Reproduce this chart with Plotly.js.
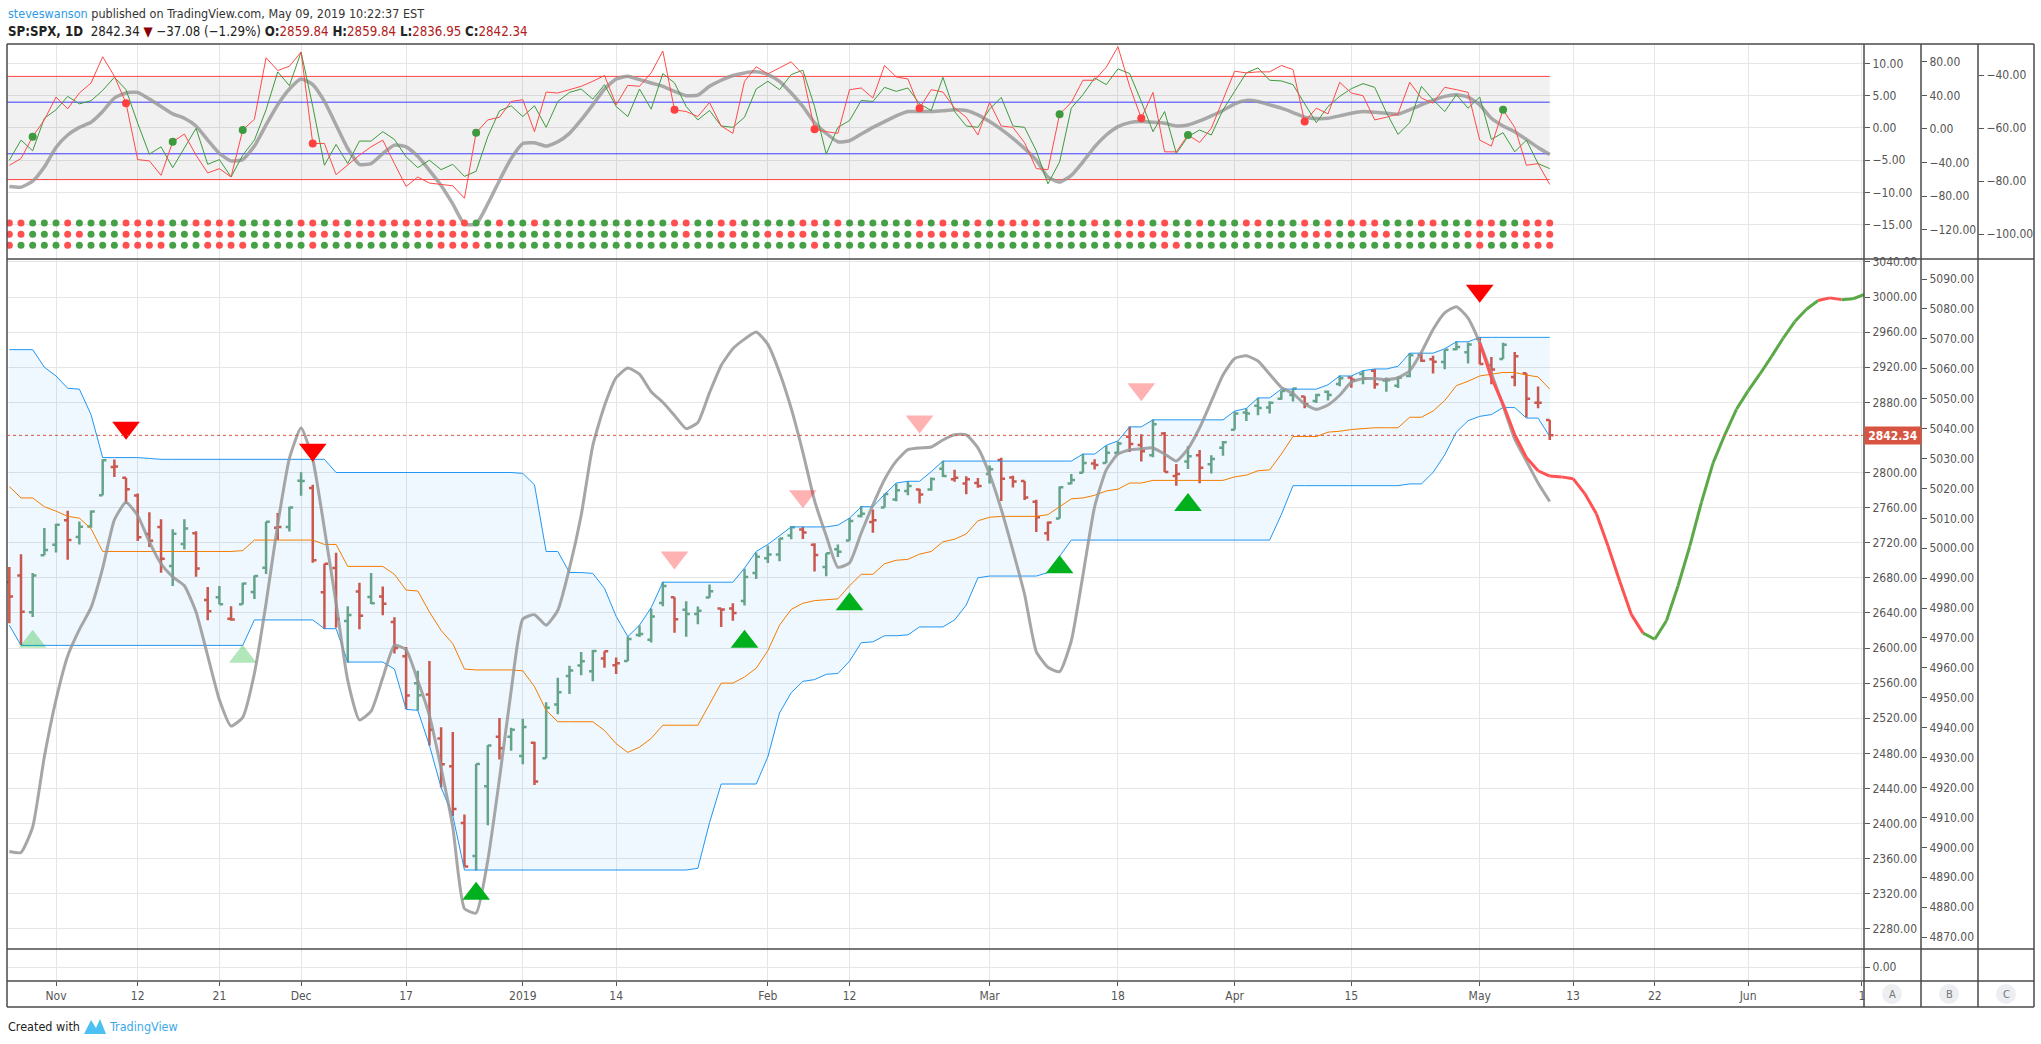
<!DOCTYPE html>
<html><head><meta charset="utf-8">
<script src="https://cdn.plot.ly/plotly-3.0.1.min.js"></script>
<style>html,body{margin:0;padding:0;background:#fff;}#chart{width:2041px;height:1044px;}</style>
</head><body><div id="chart"></div>
<script>
// ---------------- DATA ----------------
const FIRST_INDEX = -4; // Oct 26 2018 relative to Nov 1 2018 (index 0)
const openP = [2674.88,2682.65,2640.68,2705.60,2717.58,2745.45,2726.37,2738.40,2774.13,2806.38,
2794.10,2773.93,2730.05,2737.90,2693.52,2718.54,2730.74,2654.60,2657.74,2633.36,
2649.97,2663.75,2691.45,2736.97,2737.76,2790.50,2782.43,2663.51,2691.26,2630.86,
2664.44,2658.23,2658.70,2629.68,2590.75,2559.90,2547.05,2496.77,2465.38,2400.56,
2363.12,2442.50,2498.77,2498.94,2476.96,2491.92,2474.33,2535.61,2568.11,2580.00,
2573.51,2588.11,2580.31,2585.10,2614.75,2609.28,2651.27,2657.88,2643.48,2638.84,
2657.44,2644.97,2644.89,2653.62,2685.49,2702.32,2706.49,2728.34,2735.05,2717.53,
2692.36,2712.40,2722.61,2750.30,2743.50,2760.24,2769.28,2779.05,2780.67,2780.67,
2804.35,2792.36,2787.50,2788.11,2798.22,2814.37,2794.41,2790.27,2766.53,2730.79,
2747.61,2787.34,2799.78,2810.38,2810.79,2822.61,2840.76,2831.34,2819.72,2844.52,
2796.01,2812.66,2819.72,2809.40,2828.27,2848.63,2868.24,2876.09,2873.99,2884.16,
2888.46,2886.58,2881.37,2891.92,2900.86,2908.32,2912.26,2916.04,2904.81,2898.78,
2909.99,2934.00,2928.99,2925.81,2940.58,2937.14,2952.33,2922.16,2929.21,2908.89,
2913.03,2879.61,2859.84];
const highP = [2692.38,2706.85,2685.43,2736.69,2741.67,2756.55,2744.27,2756.82,2815.15,2814.75,
2794.10,2775.99,2754.60,2746.80,2735.38,2746.75,2733.16,2669.44,2670.73,2647.55,
2674.35,2682.53,2744.00,2753.75,2760.88,2800.18,2785.93,2696.15,2708.54,2647.51,
2674.35,2685.44,2670.19,2635.07,2601.13,2573.99,2585.29,2509.63,2504.41,2410.34,
2467.76,2489.10,2520.27,2509.24,2519.49,2493.14,2538.07,2566.16,2579.82,2595.32,
2597.82,2596.27,2589.32,2613.08,2625.76,2645.06,2675.47,2657.88,2653.19,2647.20,
2672.38,2644.97,2650.93,2690.44,2708.95,2716.66,2724.99,2738.98,2738.08,2719.32,
2708.07,2718.05,2748.19,2761.85,2757.90,2775.66,2787.33,2789.88,2781.58,2794.20,
2813.49,2803.12,2795.76,2793.73,2808.02,2816.88,2796.44,2790.27,2768.98,2744.13,
2784.00,2798.32,2821.24,2815.00,2830.73,2835.41,2852.42,2843.54,2860.31,2846.16,
2809.79,2829.87,2825.56,2819.71,2836.03,2869.40,2872.90,2885.25,2881.28,2893.24,
2895.95,2886.88,2889.71,2893.42,2910.54,2909.60,2916.06,2918.00,2908.40,2909.51,
2936.31,2936.83,2933.10,2939.88,2949.52,2948.22,2954.13,2931.68,2947.85,2937.32,
2913.03,2897.96,2859.84];
const lowP = [2628.16,2603.54,2635.34,2705.60,2708.85,2700.44,2717.94,2737.08,2774.13,2794.99,
2764.24,2722.00,2714.98,2685.75,2670.75,2712.16,2681.09,2631.52,2649.82,2631.09,
2649.97,2655.89,2684.38,2722.94,2732.76,2773.38,2697.18,2621.53,2623.14,2583.23,
2621.30,2650.26,2637.27,2593.84,2530.54,2528.71,2488.96,2441.18,2408.55,2351.10,
2346.58,2397.94,2472.89,2482.82,2467.47,2443.96,2474.33,2524.56,2547.56,2568.89,
2562.02,2577.40,2570.41,2585.10,2612.68,2606.36,2647.58,2617.27,2612.86,2627.01,
2657.33,2624.06,2631.05,2648.34,2678.65,2696.88,2698.75,2724.03,2724.15,2687.26,
2681.83,2703.79,2722.61,2748.63,2731.23,2760.24,2767.29,2774.06,2764.55,2779.11,
2794.99,2789.47,2775.13,2782.51,2787.38,2767.66,2782.97,2768.69,2732.08,2722.27,
2747.61,2786.73,2799.78,2803.46,2810.79,2821.99,2823.27,2812.43,2817.38,2800.47,
2785.02,2803.99,2787.72,2798.77,2819.23,2848.63,2858.75,2865.17,2867.14,2882.99,
2880.78,2873.33,2879.13,2881.99,2898.37,2896.48,2900.71,2895.45,2891.90,2896.35,
2908.53,2926.05,2912.84,2917.56,2939.35,2924.11,2923.36,2900.50,2929.21,2898.21,
2862.60,2873.28,2836.95];
const closeP = [2658.69,2641.25,2682.63,2711.74,2740.37,2723.06,2738.31,2755.45,2813.89,2806.83,
2781.01,2726.22,2722.18,2701.58,2730.20,2736.27,2690.73,2641.89,2649.93,2632.56,
2673.45,2682.17,2743.79,2737.80,2760.17,2790.37,2700.06,2695.95,2633.08,2637.72,
2636.78,2651.07,2650.54,2599.95,2545.94,2546.16,2506.96,2467.42,2416.62,2351.10,
2467.70,2488.83,2485.74,2506.85,2510.03,2447.89,2531.94,2549.69,2574.41,2584.96,
2596.64,2596.26,2582.61,2610.30,2616.10,2635.96,2670.71,2632.90,2638.70,2642.33,
2664.76,2643.85,2640.00,2681.05,2704.10,2706.53,2724.87,2737.70,2731.61,2706.05,
2707.88,2709.80,2744.73,2753.03,2745.73,2775.60,2779.76,2784.70,2774.88,2792.67,
2796.11,2793.90,2792.38,2784.49,2803.69,2792.81,2789.65,2771.45,2748.93,2743.07,
2783.30,2791.52,2810.92,2808.48,2822.48,2832.94,2832.57,2824.23,2854.88,2800.71,
2798.36,2818.46,2805.37,2815.44,2834.40,2867.19,2867.24,2873.40,2879.39,2892.74,
2895.77,2878.20,2888.21,2888.32,2907.41,2905.58,2907.06,2900.45,2905.03,2907.97,
2933.68,2927.25,2926.17,2939.88,2943.03,2945.83,2923.73,2917.52,2945.64,2932.47,
2884.05,2879.42,2842.34];
// bar colour (vs previous close): G = up, R = down
const barColors = "RRGGGRGGGR RRRRGGRRGR GGGRGGRRRG RGRRRGRRRR GGRGGRGGGG GRRGGGGRGG GRRGGGGGRR GGGGRGGGRG GRRRGRRRRR GGGRGGRRGR RGRGGGGGGG GRGGGRGRGG GRRGGGRRGRRRR";

// channel (main pane)
const bandUpper = [2940,2940,2940,2920,2910,2896,2895,2866,2817,2817,
2817,2817,2816,2815,2815,2815,2815,2815,2815,2815,
2815,2815,2815,2815,2815,2815,2815,2815,2800,2800,
2800,2800,2800,2800,2800,2800,2800,2800,2800,2800,
2800,2800,2800,2800,2799,2786,2710,2710,2686,2686,
2685,2668,2636,2613,2626,2646,2675,2675,2675,2675,
2675,2675,2675,2691,2710,2718,2728,2738,2738,2738,
2738,2740,2748,2761,2761,2775,2788,2790,2790,2801,
2813,2813,2813,2813,2813,2813,2813,2813,2813,2813,
2813,2813,2821,2821,2831,2836,2852,2852,2860,2860,
2860,2860,2860,2860,2860,2870,2873,2885,2885,2895,
2895,2895,2895,2900,2910,2910,2916,2918,2918,2921,
2936,2936,2936,2941,2949,2949,2954,2954,2954,2954,2954,2954,2954];
const bandLower = [2626,2603,2603,2603,2603,2603,2603,2603,2603,2603,
2603,2603,2603,2603,2603,2603,2603,2603,2603,2603,
2603,2632,2632,2632,2632,2632,2632,2622,2622,2584,
2584,2584,2584,2576,2530,2529,2489,2441,2409,2347,
2347,2347,2347,2347,2347,2347,2347,2347,2347,2347,
2347,2347,2347,2347,2347,2347,2347,2347,2347,2349,
2401,2445,2445,2445,2445,2476,2526,2549,2562,2564,
2570,2571,2585,2606,2607,2614,2614,2615,2624,2624,
2624,2632,2649,2680,2682,2682,2682,2682,2682,2686,
2704,2723,2723,2723,2723,2723,2723,2723,2723,2723,
2723,2723,2723,2723,2723,2723,2723,2723,2723,2752,
2785,2785,2785,2785,2785,2785,2785,2785,2785,2785,
2787,2787,2800,2820,2846,2859,2864,2866,2874,2874,2862,2862,2841];
const bandMid = [2784,2771,2771,2761,2756,2750,2748,2736,2710,2710,
2710,2710,2710,2710,2710,2710,2710,2710,2710,2710,
2711,2723,2723,2723,2723,2723,2723,2718,2718,2693,
2693,2693,2693,2684,2666,2665,2641,2620,2605,2576,
2575,2575,2575,2575,2574,2556,2529,2516,2516,2516,
2516,2506,2491,2481,2487,2497,2512,2512,2512,2512,
2536,2560,2560,2567,2577,2597,2626,2644,2651,2654,
2655,2656,2671,2684,2684,2696,2700,2701,2707,2710,
2721,2724,2730,2745,2749,2750,2750,2750,2750,2752,
2761,2770,2771,2774,2779,2781,2788,2788,2791,2791,
2791,2791,2791,2791,2791,2795,2797,2802,2803,2821,
2841,2841,2841,2846,2847,2849,2850,2851,2851,2851,
2863,2863,2870,2882,2899,2904,2910,2912,2914,2914,2911,2909,2895];
const cycleLine = [2368,2367,2396,2476,2541,2591,2621,2646,2691,2746,
2766,2751,2721,2696,2681,2671,2641,2591,2541,2511,
2521,2571,2651,2741,2816,2851,2815,2736,2651,2563,
2518,2528,2566,2603,2598,2563,2523,2463,2396,2303,
2298,2358,2451,2551,2633,2638,2626,2643,2691,2751,
2831,2876,2908,2919,2912,2892,2880,2865,2850,2857,
2891,2922,2941,2952,2960,2946,2914,2873,2823,2768,
2728,2692,2697,2731,2763,2792,2813,2826,2828,2829,
2837,2843,2843,2828,2798,2758,2711,2661,2596,2578,
2573,2608,2683,2761,2803,2821,2826,2827,2828,2821,
2813,2827,2851,2881,2911,2930,2933,2927,2912,2897,
2890,2878,2872,2877,2888,2903,2907,2907,2906,2908,
2916,2937,2963,2982,2989,2976,2948,2913,2876,2838,2813,2788,2767];
// projection (future)
const projIndex = [122,123,124,125,126,127,128,129,130,131,132,133,134,135,136,137,138,139,140,141,142,143,144,145,146,147,148,149,150,151,152,153,154,155];
const projValue = [2948,2908,2878,2843,2817,2802,2796,2795,2793,2776,2753,2716,2676,2638,2617,2610,2631,2671,2716,2766,2811,2843,2872,2893,2912,2932,2953,2972,2986,2996,2999,2997,2998,3003];
const projColors = "RRRRRRRRRRRRRRRGGGGGGGGGGGGGGGRRGG"; // colour of segment ending at each point

// signals
const sellStrongIdx = [6,22,122],      sellStrongPrice = [2851,2826,3007];
const sellWeakIdx = [53,64,74,93],     sellWeakPrice = [2703,2773,2858,2895];
const buyStrongIdx = [36,59,68,86,97], buyStrongPrice = [2320,2607,2650,2692,2763];
const buyWeakIdx = [-2,16],            buyWeakPrice = [2607,2590];

// oscillator pane
const oscRed = [-5.78,-4.74,-1.35,1.25,4.79,2.97,5.42,6.98,11.04,8.02,
3.85,-4.90,-5.10,-7.34,-2.14,-0.94,-4.22,-6.98,-6.30,-7.60,
-0.31,1.35,10.89,8.91,9.58,11.77,-2.40,-2.40,-7.24,-5.78,
-4.22,-2.92,-1.88,-5.52,-9.06,-7.60,-8.54,-8.75,-8.96,-10.89,
-0.73,1.25,1.67,4.11,4.38,-0.57,5.57,5.42,5.94,6.46,
7.24,8.13,3.59,6.61,6.46,8.54,11.93,2.81,2.55,1.77,
3.96,0.31,-0.83,7.24,9.48,8.39,9.32,10.26,8.28,-0.21,
-0.57,-0.83,5.94,6.20,4.64,9.69,7.92,7.60,3.07,5.94,
5.57,3.07,1.67,-1.09,3.96,0.31,0.10,-2.29,-6.30,-6.46,
2.14,3.96,7.40,7.40,9.43,12.60,6.46,1.51,5.52,-3.70,
-3.70,-1.09,-2.24,-0.05,4.38,8.80,8.54,8.70,8.70,9.69,
9.06,0.99,3.07,2.19,7.08,5.42,5.0,1.25,1.67,2.19,
7.08,4.64,3.85,6.30,5.94,5.52,-1.88,-2.81,2.81,0.10,-5.78,-5.52,-8.75];
const oscGreen = [-5.0,-1.88,-3.54,1.51,2.81,4.90,3.75,4.22,5.83,7.86,
5.94,0.73,-4.06,-2.92,-6.15,-3.02,-0.05,-5.63,-4.90,-7.60,
-4.22,-1.88,2.81,8.70,6.56,11.77,3.33,-5.78,-2.55,-5.52,
-2.03,-2.03,-0.57,-1.77,-4.48,-6.15,-5.0,-6.46,-5.63,-7.50,
-6.72,-1.35,2.66,3.44,1.77,3.44,0.10,4.11,5.52,6.04,
4.48,6.72,3.33,1.77,6.04,2.92,8.44,6.98,3.33,1.25,
2.71,0.31,0.10,1.67,6.04,7.24,5.94,8.28,8.96,3.33,
-4.06,0.10,1.15,4.27,4.11,6.30,5.68,6.20,3.75,2.71,
7.86,2.55,0.31,0.10,2.92,4.74,0.31,0.10,-3.54,-8.65,
-5.26,3.07,5.16,7.76,6.72,9.17,8.44,4.11,-0.57,2.55,
-3.96,-1.35,-0.31,-1.09,2.81,5.68,8.54,9.32,7.40,7.29,
6.72,3.75,0.83,3.33,4.90,6.09,6.88,6.30,2.40,-0.99,
0.83,6.46,4.38,2.55,5.16,3.07,4.79,-1.77,-0.73,-3.70,-1.88,-5.52,-6.30];
const oscGray = [-9.06,-9.17,-8.23,-6.04,-3.02,-1.09,0.10,0.89,2.55,4.64,
5.42,5.52,4.48,3.33,2.19,1.51,0.31,-1.88,-3.96,-5.10,
-4.90,-2.81,0.47,3.59,6.04,7.60,6.72,4.11,0.47,-3.18,
-5.63,-5.52,-3.96,-2.66,-2.92,-4.38,-6.56,-8.91,-11.77,-14.90,
-14.90,-11.77,-8.13,-4.74,-2.40,-2.29,-2.81,-2.14,-0.83,1.25,
3.59,6.04,7.60,8.02,7.50,6.98,6.46,5.68,5.0,5.10,
6.46,7.40,8.13,8.54,8.70,8.28,7.24,5.42,3.33,0.83,
-0.83,-2.14,-1.98,-0.94,0.10,0.99,1.88,2.55,2.55,2.55,
2.66,2.81,2.71,2.03,0.99,-0.21,-1.61,-3.18,-5.0,-7.60,
-8.39,-7.34,-5.26,-2.92,-1.09,0.21,0.83,0.99,0.89,0.73,
0.31,0.47,1.09,1.88,2.71,3.75,4.27,4.11,3.59,3.07,
2.40,1.67,1.46,1.51,1.88,2.29,2.55,2.45,2.29,2.14,
2.81,3.59,4.27,4.90,5.16,4.79,3.59,1.51,0.31,-0.57,-1.77,-3.02,-4.11];
const crossUpIdx = [-2,10,16,36,86,97,124];
const crossDownIdx = [6,22,53,65,74,93,107];
const oscOuterLevel = 8, oscInnerLevel = 4;
// status dot rows
const dotRowLevels = [-14.73,-16.48,-18.18];
const dotRows = [
 "RRGGGRGGGG RRRRGGRRRR GGGGGRRGRG RRRRRRRRRR GGRGGRGGGG GGGGGGGRRG GRRGGGGGRR GRGGGGGGRG RGGRGRRRRG GGGRGGRRGR GGRGGGRRGG GRGRGRRRGG GRRGGGRRGGRRR",
 "RRGGGRRGGG RRRRGGGRRR GGGGGGRRGR RRGGGRRRRR GGGGGGGGGG GGGGGGGGRG GRRGGRRRRG GGGGGGGGRR RRRGGGGGGG GGGGGRRRRR GGGGGGGGGG GRRRGGGRRG GGGGGRRRGRRRR",
 "RGGGGRGGGG RRRRGGGRRR RGGGGGRGGG GGGGGGGRRR RGGGGGGGGG GGGGGGGGGG GGGGGGGGGR GGGGGGGGGG GGGGGGGGGG GGGGGGGGGR RGGGGGGGGG GGGGGGGGGG GGGGGGRGGGRRR"
];
// empty lower pane (no values drawn)
const lowerPaneValues = [0];
// time axis
const tickIndex = [0,7,14,21,30,40,48,61,68,80,91,101,111,122,130,137,145,154.75];
const tickText  = ['Nov','12','21','Dec','17','2019','14','Feb','12','Mar','18','Apr','15','May','13','22','Jun','1'];
const symbolName = 'SP:SPX, 1D';
const author = 'steveswanson';
const published = 'published on TradingView.com, May 09, 2019 10:22:37 EST';
// axis scales
const rngOscA = [-20.31, 13.02], rngOscB = [-154.8, 101.2], rngOscC = [-109.4, -28.3];
const rngPriceA = [2257, 3043.3], rngPriceB = [4866, 5096.7], rngLower = [-0.875, 1.125];

// ---------------- BUILD ----------------
const W = 2041, H = 1044, ML = 7, MR = 7, MT = 44, MB = 37;
const PW = W - ML - MR, PH = H - MT - MB;
const px = x => (x - ML) / PW;
const py = y => (H - MB - y) / PH;
const FONT = '"Liberation Sans Narrow","DejaVu Sans Condensed","Liberation Sans",Arial,sans-serif';
const UP = '#6ba583', DN = '#d75442';
const DOTR = '#ff4f4f', DOTG = '#46a046';

const xi = openP.map((_, i) => FIRST_INDEX + i);
const lastI = xi.length - 1;
const bc = barColors.replace(/ /g, '');
const traces = [];

// --- oscillator pane (y) ---
const bandX = [xi[0] - 1, xi[lastI]];
traces.push({x: bandX, y: [-oscOuterLevel, -oscOuterLevel], type: 'scatter', mode: 'lines', xaxis: 'x', yaxis: 'y',
  line: {color: '#ff4040', width: 1}, hoverinfo: 'skip'});
traces.push({x: bandX, y: [oscOuterLevel, oscOuterLevel], type: 'scatter', mode: 'lines', xaxis: 'x', yaxis: 'y',
  line: {color: '#ff4040', width: 1}, fill: 'tonexty', fillcolor: 'rgba(0,0,0,0.055)', hoverinfo: 'skip'});
[oscInnerLevel, -oscInnerLevel].forEach(v => traces.push({x: bandX, y: [v, v], type: 'scatter', mode: 'lines',
  xaxis: 'x', yaxis: 'y', line: {color: '#3c3cff', width: 1}, hoverinfo: 'skip'}));
traces.push({x: xi, y: oscGray, type: 'scatter', mode: 'lines', xaxis: 'x', yaxis: 'y',
  line: {color: 'rgba(150,150,150,0.8)', width: 3.5, shape: 'spline', smoothing: 0.5}, hoverinfo: 'skip'});
traces.push({x: xi, y: oscGreen, type: 'scatter', mode: 'lines', xaxis: 'x', yaxis: 'y',
  line: {color: '#3f9a3f', width: 1}, hoverinfo: 'skip'});
traces.push({x: xi, y: oscRed, type: 'scatter', mode: 'lines', xaxis: 'x', yaxis: 'y',
  line: {color: '#ff4a4a', width: 1}, hoverinfo: 'skip'});
const valAt = (arr, idx) => arr[idx - FIRST_INDEX];
traces.push({x: crossUpIdx, y: crossUpIdx.map(i => valAt(oscRed, i)), type: 'scatter', mode: 'markers', xaxis: 'x', yaxis: 'y',
  marker: {color: '#3d9a3d', size: 8}, hoverinfo: 'skip'});
traces.push({x: crossDownIdx, y: crossDownIdx.map(i => valAt(oscRed, i)), type: 'scatter', mode: 'markers', xaxis: 'x', yaxis: 'y',
  marker: {color: '#ff4040', size: 8}, hoverinfo: 'skip'});
dotRows.forEach((row, r) => {
  const s = row.replace(/ /g, '');
  ['R', 'G'].forEach(c => {
    const xs = [], ys = [];
    for (let i = 0; i < s.length; i++) if (s[i] === c) { xs.push(xi[i]); ys.push(dotRowLevels[r]); }
    traces.push({x: xs, y: ys, type: 'scatter', mode: 'markers', xaxis: 'x', yaxis: 'y',
      marker: {color: c === 'R' ? DOTR : DOTG, size: 7}, hoverinfo: 'skip'});
  });
});

// --- main pane (y2) ---
traces.push({x: xi, y: bandLower, type: 'scatter', mode: 'lines', xaxis: 'x', yaxis: 'y2',
  line: {color: '#2196f3', width: 1}, hoverinfo: 'skip'});
traces.push({x: xi, y: bandUpper, type: 'scatter', mode: 'lines', xaxis: 'x', yaxis: 'y2',
  line: {color: '#2196f3', width: 1}, fill: 'tonexty', fillcolor: 'rgba(33,150,243,0.07)', hoverinfo: 'skip'});
traces.push({x: xi, y: bandMid, type: 'scatter', mode: 'lines', xaxis: 'x', yaxis: 'y2',
  line: {color: '#f57c00', width: 1}, hoverinfo: 'skip'});
traces.push({x: xi, y: cycleLine, type: 'scatter', mode: 'lines', xaxis: 'x', yaxis: 'y2',
  line: {color: 'rgba(150,150,150,0.85)', width: 3, shape: 'spline', smoothing: 0.5}, hoverinfo: 'skip'});
['G', 'R'].forEach(c => {
  const sel = [];
  for (let i = 0; i < bc.length; i++) if (bc[i] === c) sel.push(i);
  const col = c === 'G' ? UP : DN;
  traces.push({type: 'ohlc', xaxis: 'x', yaxis: 'y2', x: sel.map(i => xi[i]),
    open: sel.map(i => openP[i]), high: sel.map(i => highP[i]), low: sel.map(i => lowP[i]), close: sel.map(i => closeP[i]),
    increasing: {line: {color: col, width: 2.5}}, decreasing: {line: {color: col, width: 2.5}}, tickwidth: 0.32, hoverinfo: 'skip'});
});
for (let k = 1; k < projIndex.length; k++) {
  traces.push({x: [projIndex[k - 1], projIndex[k]], y: [projValue[k - 1], projValue[k]], type: 'scatter', mode: 'lines',
    xaxis: 'x', yaxis: 'y2', line: {color: projColors[k] === 'R' ? '#ff5252' : '#5aa946', width: 3}, hoverinfo: 'skip'});
}
const tri = (xs, ys, sym, col) => traces.push({x: xs, y: ys, type: 'scatter', mode: 'markers', xaxis: 'x', yaxis: 'y2',
  marker: {symbol: sym, size: 24, color: col, line: {width: 0}}, hoverinfo: 'skip'});
tri(sellStrongIdx, sellStrongPrice, 'triangle-down', '#ff0000');
tri(sellWeakIdx, sellWeakPrice, 'triangle-down', 'rgba(255,0,0,0.3)');
tri(buyStrongIdx, buyStrongPrice, 'triangle-up', '#00b01c');
tri(buyWeakIdx, buyWeakPrice, 'triangle-up', 'rgba(0,176,28,0.3)');

// --- invisible carriers so every pane / scale is created and drawn ---
const mid = r => (r[0] + r[1]) / 2;
const carrier = (yax, yv) => traces.push({x: [xi[0]], y: [yv], type: 'scatter', mode: 'markers', xaxis: 'x', yaxis: yax,
  marker: {opacity: 0, size: 1}, hoverinfo: 'skip'});
carrier('y3', lowerPaneValues[0]);
carrier('y4', mid(rngOscB));
carrier('y5', mid(rngOscC));
carrier('y6', mid(rngPriceB));

// ---------------- LAYOUT ----------------
const lastClose = closeP[lastI], prevClose = closeP[lastI - 1];
const chg = lastClose - prevClose, pct = chg / prevClose * 100;
const fmt = v => (v < 0 ? '\u2212' : '') + Math.abs(v).toFixed(2);
const dred = '#b0201a';
const line2 = `<b>${symbolName}</b>  ${lastClose.toFixed(2)} <span style="color:#8b0000">\u25BC</span> ${fmt(chg)} (${fmt(pct)}%) ` +
  `<b>O:</b><span style="color:${dred}">${openP[lastI].toFixed(2)}</span> <b>H:</b><span style="color:${dred}">${highP[lastI].toFixed(2)}</span> ` +
  `<b>L:</b><span style="color:${dred}">${lowP[lastI].toFixed(2)}</span> <b>C:</b><span style="color:${dred}">${lastClose.toFixed(2)}</span>`;

const priceTicks = [];
for (let v = 2280; v <= 3040; v += 40) if (Math.abs(v - lastClose) > 15) priceTicks.push(v);

const xDomEnd = px(1864);
const topDom = [py(259), 1], mainDom = [py(949), py(259)], smallDom = [py(981), py(949)];
const tickFont = {family: FONT, size: 12, color: '#555'};
const axBase = {side: 'right', ticks: 'outside', ticklen: 5, tickcolor: '#555', tickfont: tickFont,
  zeroline: false, showline: false, gridcolor: '#e6e6e6', tickformat: '.2f', fixedrange: true};

const BORDER = '#4a4a4a';
const shapes = [];
const hl = y => shapes.push({type: 'line', xref: 'paper', yref: 'paper', x0: px(7), x1: px(2034), y0: py(y), y1: py(y), line: {color: BORDER, width: 1.5}});
const vl = x => shapes.push({type: 'line', xref: 'paper', yref: 'paper', x0: px(x), x1: px(x), y0: py(44), y1: py(1007), line: {color: BORDER, width: 1.5}});
[44, 259, 949, 981, 1007].forEach(hl);
[7, 1864, 1921, 1978, 2034].forEach(vl);
shapes.push({type: 'line', xref: 'paper', yref: 'y2', x0: 0, x1: xDomEnd, y0: lastClose, y1: lastClose,
  line: {color: DN, width: 1, dash: 'dot'}});
[1892, 1949, 2006].forEach(cx => shapes.push({type: 'circle', xref: 'paper', yref: 'paper',
  x0: px(cx - 10), x1: px(cx + 10), y0: py(1004), y1: py(984), fillcolor: '#eceef2', line: {width: 0}}));
shapes.push({type: 'path', xref: 'paper', yref: 'paper', fillcolor: '#4cc0f0', line: {width: 0},
  path: `M ${px(84)} ${py(1034)} L ${px(91)} ${py(1020)} L ${px(96)} ${py(1028)} L ${px(100)} ${py(1019)} L ${px(106)} ${py(1034)} Z`});

const annotations = [
  {xref: 'paper', yref: 'paper', x: px(6), y: py(14), xanchor: 'left', yanchor: 'middle', showarrow: false,
   text: `<span style="color:#2e9be6">${author}</span> ${published}`, font: {family: FONT, size: 12.5, color: '#333'}},
  {xref: 'paper', yref: 'paper', x: px(6), y: py(31), xanchor: 'left', yanchor: 'middle', showarrow: false,
   text: line2, font: {family: FONT, size: 13.2, color: '#222'}},
  {xref: 'paper', yref: 'y2', x: xDomEnd, y: lastClose, xanchor: 'left', yanchor: 'middle', showarrow: false,
   text: `<b>${lastClose.toFixed(2)}</b>`, bgcolor: DN, font: {family: FONT, size: 12, color: '#fff'}, width: 54, height: 15, borderpad: 1},
  {xref: 'paper', yref: 'paper', x: px(6), y: py(1026), xanchor: 'left', yanchor: 'middle', showarrow: false,
   text: 'Created with', font: {family: FONT, size: 12.5, color: '#222'}},
  {xref: 'paper', yref: 'paper', x: px(107), y: py(1026), xanchor: 'left', yanchor: 'middle', showarrow: false,
   text: 'TradingView', font: {family: FONT, size: 12.5, color: '#3aa9e8'}}
];
['A', 'B', 'C'].forEach((t, k) => annotations.push({xref: 'paper', yref: 'paper', x: px([1892, 1949, 2006][k]), y: py(994),
  xanchor: 'center', yanchor: 'middle', showarrow: false, text: t, font: {family: FONT, size: 11, color: '#777'}}));

const layout = {
  width: W, height: H, margin: {l: ML, r: MR, t: MT, b: MB, pad: 0},
  paper_bgcolor: '#fff', plot_bgcolor: '#fff', showlegend: false, hovermode: false,
  font: {family: FONT},
  xaxis: {domain: [0, xDomEnd], range: [-4.2, 154.93], anchor: 'y3', side: 'bottom', tickvals: tickIndex, ticktext: tickText,
    ticks: 'outside', ticklen: 4, tickcolor: '#555', tickfont: tickFont, showgrid: true, gridcolor: '#e6e6e6',
    zeroline: false, showline: false, rangeslider: {visible: false}, fixedrange: true},
  yaxis: Object.assign({}, axBase, {domain: topDom, anchor: 'x', range: rngOscA, tickvals: [10, 5, 0, -5, -10, -15]}),
  yaxis2: Object.assign({}, axBase, {domain: mainDom, anchor: 'x', range: rngPriceA, tickvals: priceTicks}),
  yaxis3: Object.assign({}, axBase, {domain: smallDom, anchor: 'x', range: rngLower, tickvals: [0]}),
  yaxis4: Object.assign({}, axBase, {overlaying: 'y', anchor: 'free', position: px(1921), range: rngOscB, dtick: 40, tick0: 0, showgrid: false}),
  yaxis5: Object.assign({}, axBase, {overlaying: 'y', anchor: 'free', position: px(1978), range: rngOscC, dtick: 20, tick0: 0, showgrid: false}),
  yaxis6: Object.assign({}, axBase, {overlaying: 'y2', anchor: 'free', position: px(1921), range: rngPriceB, dtick: 10, tick0: 0, showgrid: false}),
  shapes: shapes, annotations: annotations
};
Plotly.newPlot('chart', traces, layout, {displayModeBar: false, staticPlot: true});
</script></body></html>
